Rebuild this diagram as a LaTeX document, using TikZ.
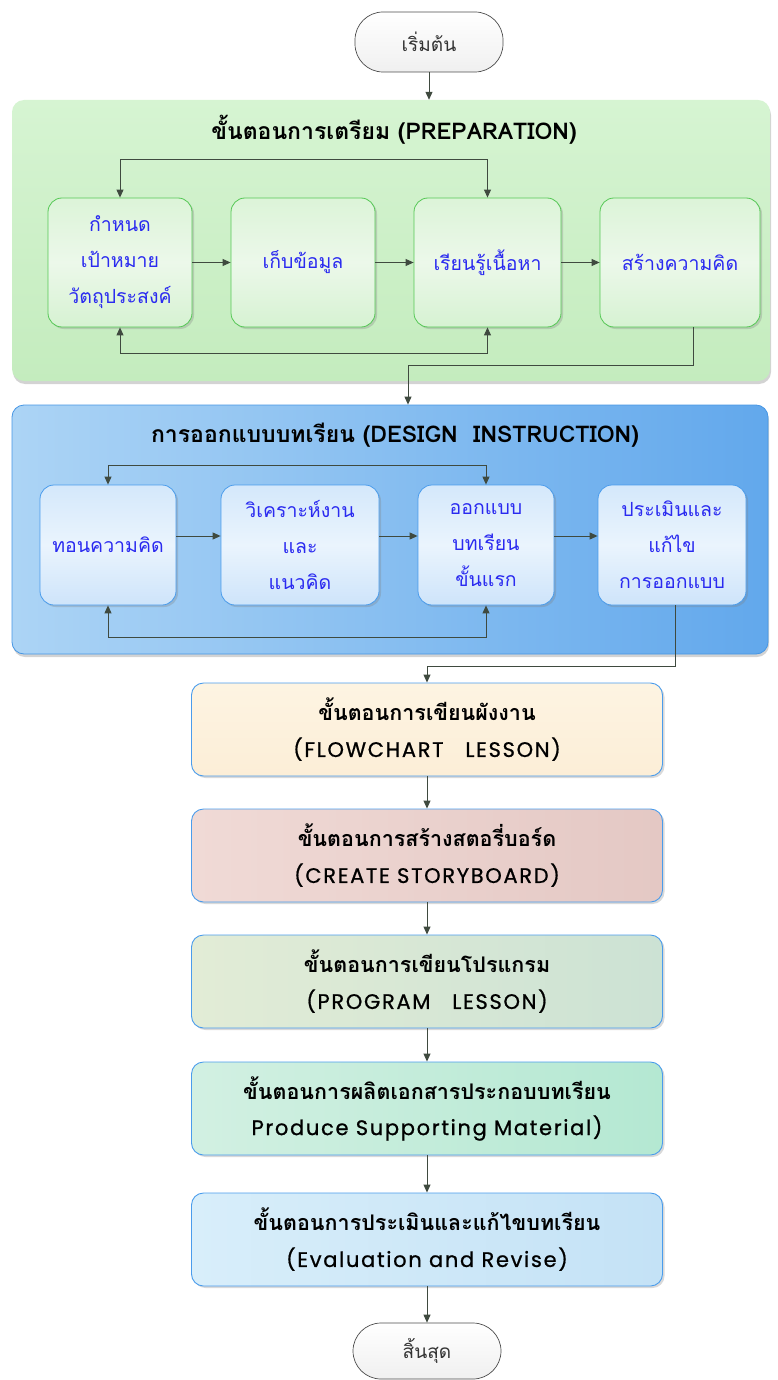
\documentclass[tikz,border=0pt]{standalone}
\usepackage{fontspec}
\setmainfont[Script=Thai]{Loma}
\newfontfamily\latinf[LetterSpace=8,FakeBold=0.8]{Poppins}
\usetikzlibrary{arrows.meta,shadows,calc}
\definecolor{linec}{HTML}{3F4A3F}
\definecolor{thaiblue}{HTML}{2A2AF0}
\definecolor{gborder}{HTML}{55C855}
\definecolor{bborder}{HTML}{4A9CEC}
\newcommand{\latline}[1]{{\latinf\fontsize{21}{36}\selectfont #1}}
\begin{document}
\begin{tikzpicture}[x=1pt,y=-1pt,
  conn/.style={draw=linec,line width=0.9pt},
  arr/.style={conn,-{Triangle[length=8pt,width=7pt]}},
  arrboth/.style={conn,{Triangle[length=8pt,width=7pt]}-{Triangle[length=8pt,width=7pt]}},
  pill/.style={draw=black!70,line width=0.7pt,rounded corners=28pt,fill=white,
    top color=white,bottom color=black!6,minimum width=148pt,font=\fontsize{19}{22}\selectfont,text=black!80},
  areabox/.style={rounded corners=12pt,drop shadow={opacity=0.35,shadow xshift=1pt,shadow yshift=-3pt}},
  gbox/.style={draw=gborder,line width=0.8pt,rounded corners=14pt,
    top color={rgb,255:red,220;green,244;blue,216},bottom color={rgb,255:red,214;green,242;blue,210},
    middle color={rgb,255:red,236;green,248;blue,234},minimum height=129pt,align=center,text=thaiblue,
    font=\fontsize{19.5}{36}\selectfont,drop shadow={opacity=0.3,shadow xshift=2pt,shadow yshift=-2pt}},
  bbox/.style={draw=bborder,line width=0.8pt,rounded corners=14pt,
    top color={rgb,255:red,212;green,232;blue,251},bottom color={rgb,255:red,206;green,228;blue,250},
    middle color={rgb,255:red,234;green,244;blue,253},minimum height=120pt,align=center,text=thaiblue,
    font=\fontsize{19.5}{36}\selectfont,drop shadow={opacity=0.3,shadow xshift=2pt,shadow yshift=-2pt}},
  stepbox/.style={draw=bborder,line width=0.9pt,rounded corners=12pt,minimum width=471pt,minimum height=93pt,
    align=center,font=\fontsize{21.5}{36}\selectfont,drop shadow={opacity=0.3,shadow xshift=2pt,shadow yshift=-2pt}},
  title/.style={font=\bfseries\fontsize{23}{26}\selectfont}
]
\useasboundingbox (0,0) rectangle (778,1380);

% start
\node[pill,minimum height=60pt] (start) at (429,42) {เริ่มต้น};

% green area
\node[areabox,top color={rgb,255:red,214;green,244;blue,210},bottom color={rgb,255:red,196;green,236;blue,190},
  minimum width=758pt,minimum height=281pt] (prep) at (391,240.5) {};
\node[title] (prept) at (394,130) {ขั้นตอนการเตรียม (PREPARATION)};

\node[gbox,minimum width=144pt] (g1) at (120,262.5) {กำหนด\\เป้าหมาย\\วัตถุประสงค์};
\node[gbox,minimum width=144pt] (g2) at (303,262.5) {เก็บข้อมูล};
\node[gbox,minimum width=147pt] (g3) at (487.5,262.5) {เรียนรู้เนื้อหา};
\node[gbox,minimum width=160pt] (g4) at (680,262.5) {สร้างความคิด};

\draw[arr] (g1) -- (g2);
\draw[arr] (g2) -- (g3);
\draw[arr] (g3) -- (g4);
\draw[arrboth] (g1.north) -- ++(0,-38) -| (g3.north);
\draw[arrboth] (g1.south) -- ++(0,26) -| (g3.south);

% blue area
\node[areabox,draw={rgb,255:red,70;green,150;blue,228},line width=0.8pt,
  left color={rgb,255:red,172;green,212;blue,245},right color={rgb,255:red,98;green,168;blue,236},
  minimum width=756pt,minimum height=249pt] (des) at (390,529.5) {};
\node[title] (dest) at (395,435) {การออกแบบบทเรียน (DESIGN~~INSTRUCTION)};

\coordinate (brow) at (0,536);
\node[bbox,minimum width=136pt] (b1) at (108,545) {ทอนความคิด};
\node[bbox,minimum width=158pt] (b2) at (300,545) {วิเคราะห์งาน\\และ\\แนวคิด};
\node[bbox,minimum width=136pt] (b3) at (486,545) {ออกแบบ\\บทเรียน\\ขั้นแรก};
\node[bbox,minimum width=148pt] (b4) at (672,545) {ประเมินและ\\แก้ไข\\การออกแบบ};

\draw[arr] (b1.east |- brow) -- (b2.west |- brow);
\draw[arr] (b2.east |- brow) -- (b3.west |- brow);
\draw[arr] (b3.east |- brow) -- (b4.west |- brow);
\draw[arrboth] (b1.north) -- ++(0,-19) -| (b3.north);
\draw[arrboth] (b1.south) -- ++(0,32) -| (b3.south);

% green exit to blue
\coordinate (gx) at (693,0);
\draw[arr] (g4.south -| gx) -- ++(0,38) -| ($(des.north)+(18,0)$);

% vertical steps
\node[stepbox,top color={rgb,255:red,253;green,244;blue,226},bottom color={rgb,255:red,252;green,238;blue,215}] (flow) at (427,729.5)
  {\bfseries ขั้นตอนการเขียนผังงาน\\\latline{(FLOWCHART~~ LESSON)}};
\node[stepbox,left color={rgb,255:red,240;green,218;blue,214},right color={rgb,255:red,228;green,200;blue,196}] (story) at (427,855.5)
  {\bfseries ขั้นตอนการสร้างสตอรี่บอร์ด\\\latline{(CREATE STORYBOARD)}};
\node[stepbox,left color={rgb,255:red,226;green,236;blue,214},right color={rgb,255:red,204;green,226;blue,212}] (prog) at (427,981.5)
  {\bfseries ขั้นตอนการเขียนโปรแกรม\\\latline{(PROGRAM~~ LESSON)}};
\node[stepbox,left color={rgb,255:red,210;green,240;blue,226},right color={rgb,255:red,180;green,232;blue,210}] (prod) at (427,1108.5)
  {\bfseries ขั้นตอนการผลิตเอกสารประกอบบทเรียน\\\latline{Produce Supporting Material)}};
\node[stepbox,left color={rgb,255:red,216;green,238;blue,250},right color={rgb,255:red,196;green,226;blue,246}] (eval) at (427,1239.5)
  {\bfseries ขั้นตอนการประเมินและแก้ไขบทเรียน\\\latline{(Evaluation and Revise)}};

\node[pill,minimum height=56pt] (end) at (427,1351) {สิ้นสุด};

% blue exit to flow
\coordinate (bx) at (675,0);
\draw[arr] (b4.south -| bx) -- ++(0,61) -| (flow.north);

\draw[arr] (start) -- (start |- prep.north);
\draw[arr] (flow) -- (story);
\draw[arr] (story) -- (prog);
\draw[arr] (prog) -- (prod);
\draw[arr] (prod) -- (eval);
\draw[arr] (eval) -- (end);
\end{tikzpicture}
\end{document}
